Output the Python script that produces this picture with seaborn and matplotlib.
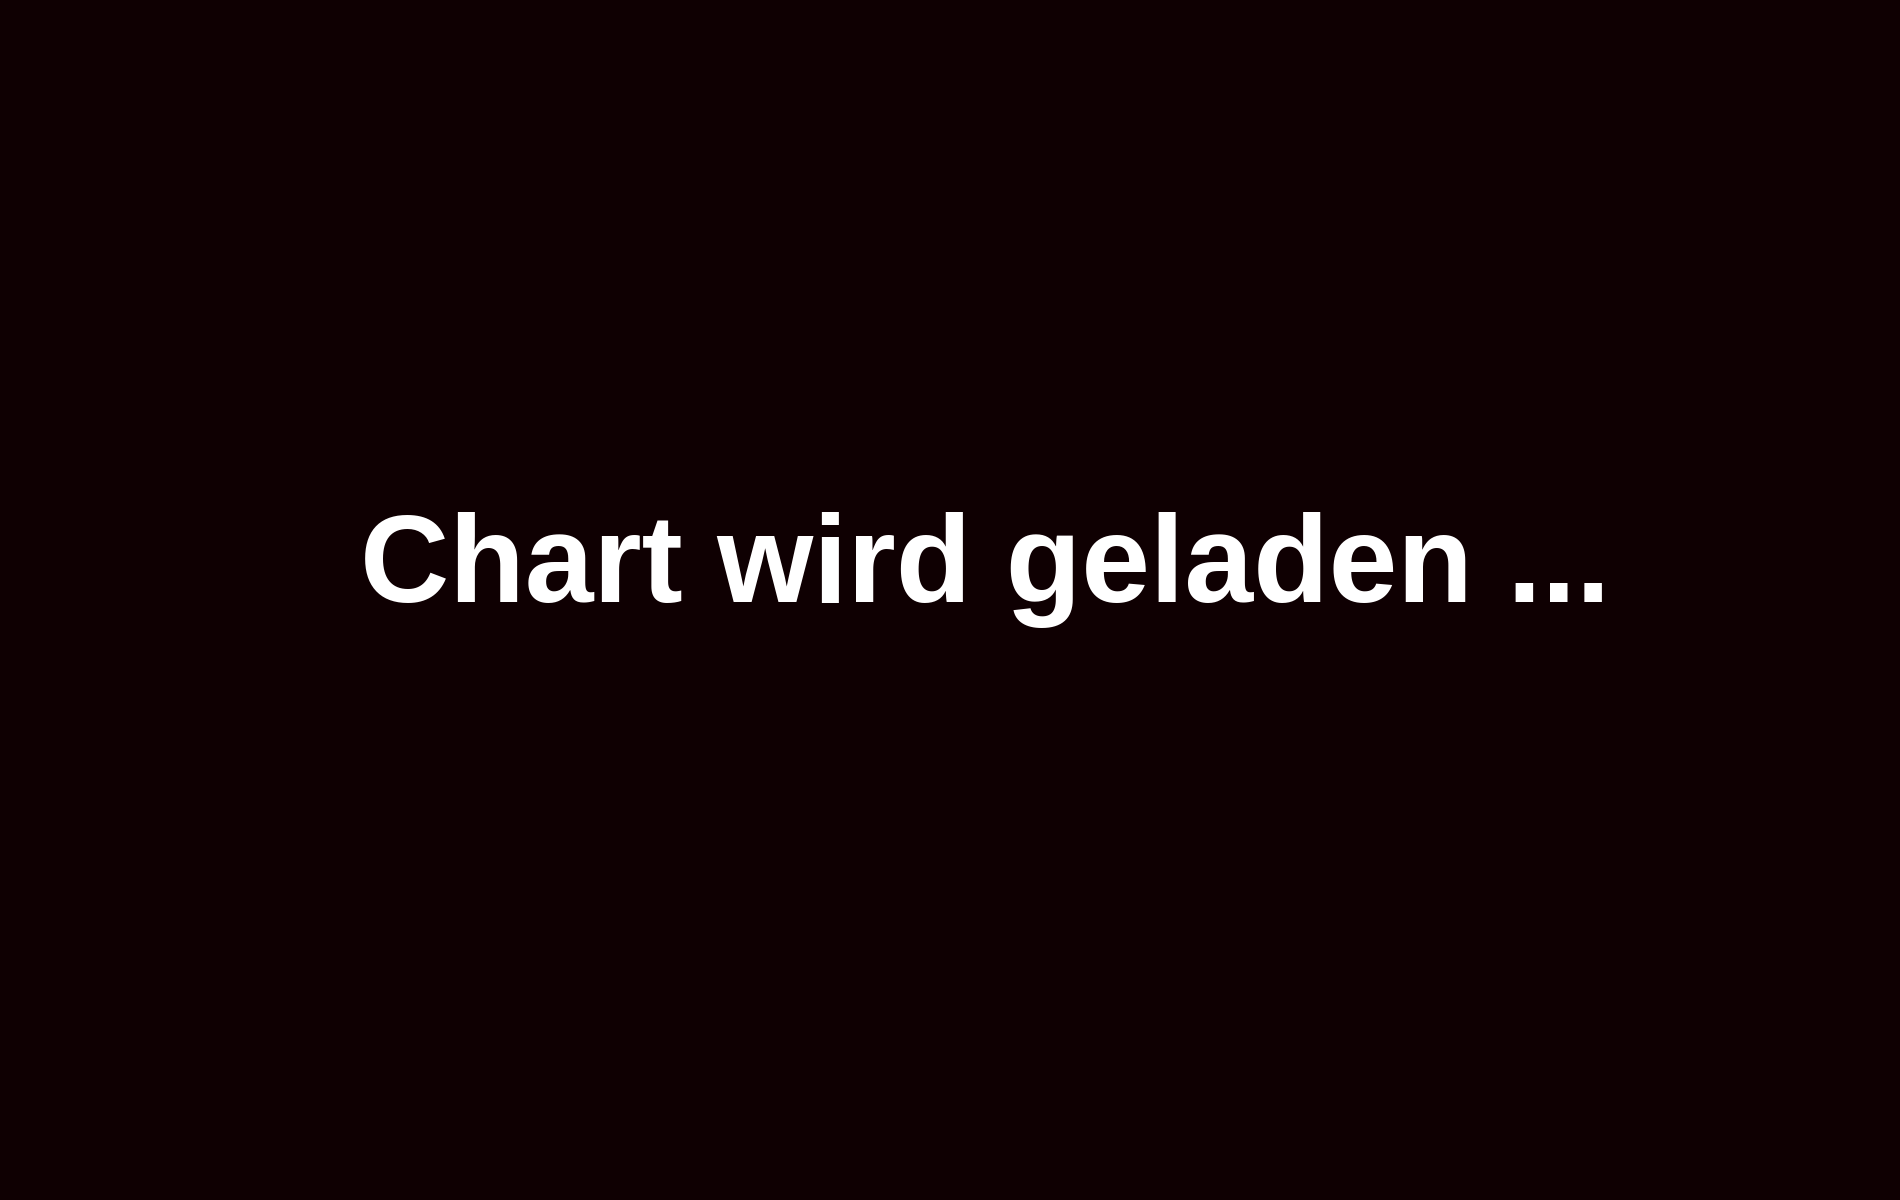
import matplotlib
matplotlib.use("Agg")
import matplotlib.pyplot as plt
import seaborn as sns

# Content of the reference (a loading placeholder, no data series)
message = ["Chart wird geladen ..."]
background = "#0f0002"
text_color = "#ffffff"

sns.set_theme(style="dark", rc={"axes.facecolor": background, "figure.facecolor": background})
plt.rcParams["font.family"] = ["Liberation Sans", "DejaVu Sans"]

fig = plt.figure(figsize=(19, 12), dpi=100)
ax = fig.add_axes([0, 0, 1, 1])
ax.set_facecolor(background)
ax.set_xlim(0, 1900)
ax.set_ylim(1200, 0)
ax.axis("off")

ax.text(985, 602, message[0], color=text_color, fontsize=89, fontweight="bold",
        ha="center", va="baseline")

fig.savefig("out.png", dpi=100, facecolor=background)
